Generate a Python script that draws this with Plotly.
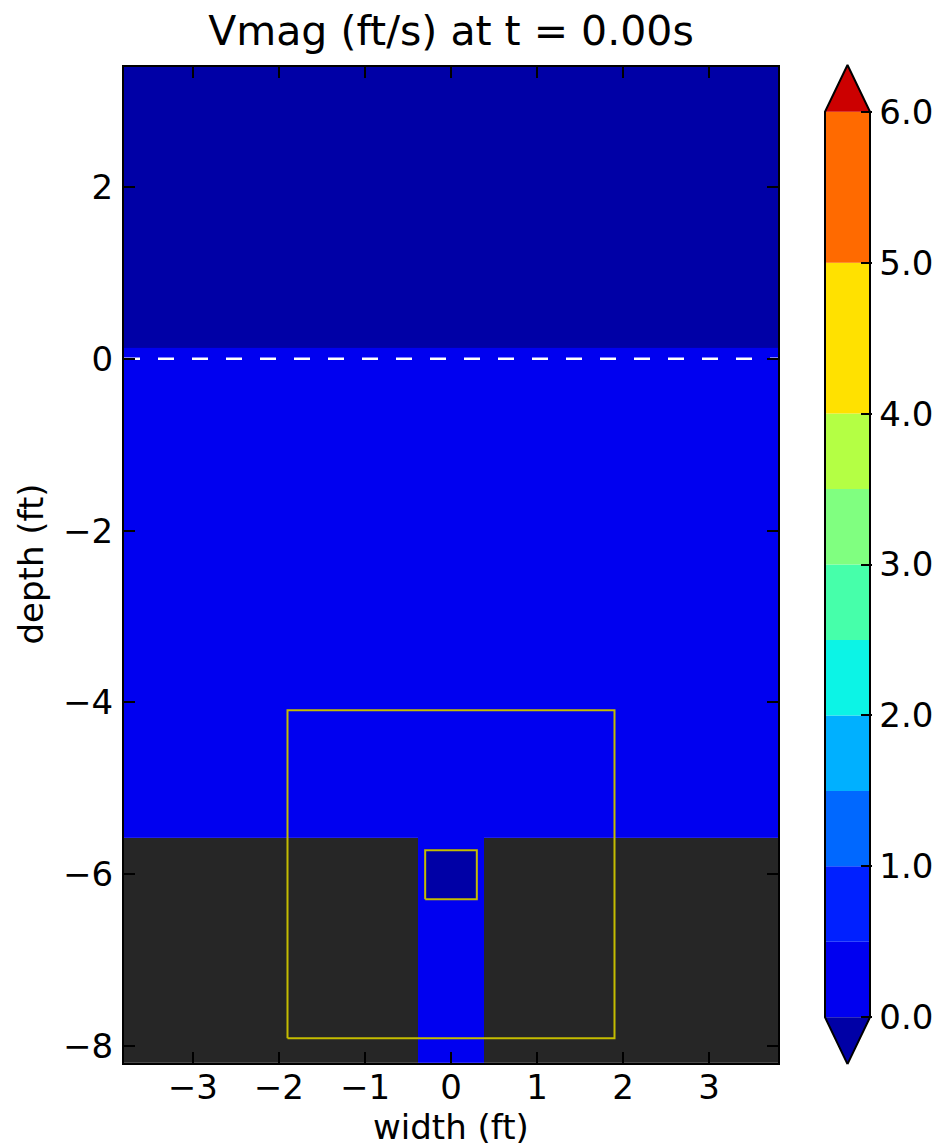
import plotly.graph_objects as go

# ---------------- data ----------------
title_text = "Vmag (ft/s) at t = 0.00s"
x_label = "width (ft)"
y_label = "depth (ft)"

# cell edges of the velocity-magnitude field (ft)
x_edges = [-3.8, -0.38, -0.3, 0.3, 0.38, 3.8]
y_edges = [-8.2, -6.3, -5.7, -5.58, 0.13, 3.4]
NaN = float("nan")
# Vmag rows, bottom to top (NaN = solid bed, -1 = below colour range)
row_bed_low = [NaN, 0.0, 0.0, 0.0, NaN]
row_bed_probe = [NaN, 0.0, -1.0, 0.0, NaN]
row_bed_top = [NaN, 0.0, 0.0, 0.0, NaN]
row_water = [0.0, 0.0, 0.0, 0.0, 0.0]
row_air = [-1.0, -1.0, -1.0, -1.0, -1.0]

# yellow outline boxes [x0, x1, y0, y1]
big_box = [-1.9, 1.9, -7.91, -4.09]
small_box = [-0.3, 0.3, -6.29, -5.72]
surface_level = 0.0

x_ticks = [-3, -2, -1, 0, 1, 2, 3]
y_ticks = [-8, -6, -4, -2, 0, 2]

# contour levels and colours
levels = [0, 0.5, 1, 1.5, 2, 2.5, 3, 3.5, 4, 5, 6]
band_colors = ["#0000f0", "#0020ff", "#0068ff", "#00b0ff", "#0cf4e6",
               "#46ffaa", "#80ff80", "#b4ff44", "#ffe100", "#ff6a00"]
under_color = "#0000a6"
over_color = "#cc0000"
cbar_ticks = [0, 1, 2, 3, 4, 5, 6]
cbar_ticktext = ["0.0", "1.0", "2.0", "3.0", "4.0", "5.0", "6.0"]
bed_color = "#262626"
box_color = "#c4bc00"

# ---------------- figure ----------------
W, H = 938, 1147
FONT = "DejaVu Sans"

def px_x(a, b):
    return [a / W, b / W]

def px_y(top, bottom):
    return [1 - bottom / H, 1 - top / H]

zmin, zmax = -1.0, 7.0
bounds = [zmin] + levels + [zmax]
cols = [under_color] + band_colors + [over_color]
colorscale = []
for i, c in enumerate(cols):
    lo = (bounds[i] - zmin) / (zmax - zmin)
    hi = (bounds[i + 1] - zmin) / (zmax - zmin)
    colorscale.append([lo, c])
    colorscale.append([hi, c])

z = [row_bed_low, row_bed_probe, row_bed_top, row_water, row_air]
bed_mask = [[1.0 if v != v else NaN for v in row] for row in z]

fig = go.Figure()
fig.add_trace(go.Heatmap(x=x_edges, y=y_edges, z=bed_mask,
                         colorscale=[[0, bed_color], [1, bed_color]], showscale=False,
                         hoverinfo="skip", xaxis="x", yaxis="y"))
fig.add_trace(go.Heatmap(x=x_edges, y=y_edges, z=z, zmin=zmin, zmax=zmax,
                         colorscale=colorscale, showscale=False,
                         hoverinfo="skip", xaxis="x", yaxis="y"))

fig.add_trace(go.Scatter(x=[x_edges[0], x_edges[-1]], y=[surface_level, surface_level],
                         mode="lines", line=dict(color="white", width=2.5, dash="16px,18px"),
                         showlegend=False, hoverinfo="skip"))

for bx in (big_box, small_box):
    x0, x1, y0, y1 = bx
    fig.add_trace(go.Scatter(x=[x0, x1, x1, x0, x0], y=[y0, y0, y1, y1, y0],
                             mode="lines", line=dict(color=box_color, width=2),
                             showlegend=False, hoverinfo="skip"))

# colourbar drawn on its own axes
ext = 0.31
lows = levels[:-1]
heights = [levels[i + 1] - levels[i] for i in range(len(levels) - 1)]
fig.add_trace(go.Bar(x=[0.5] * len(lows), y=heights, base=lows, width=1,
                     marker=dict(color=band_colors, line=dict(width=0)),
                     xaxis="x2", yaxis="y2", showlegend=False, hoverinfo="skip"))
fig.add_trace(go.Scatter(x=[0, 1, 0.5, 0], y=[levels[0], levels[0], levels[0] - ext, levels[0]],
                         fill="toself", fillcolor=under_color, mode="lines",
                         line=dict(width=0, color=under_color),
                         xaxis="x2", yaxis="y2", showlegend=False, hoverinfo="skip"))
fig.add_trace(go.Scatter(x=[0, 1, 0.5, 0], y=[levels[-1], levels[-1], levels[-1] + ext, levels[-1]],
                         fill="toself", fillcolor=over_color, mode="lines",
                         line=dict(width=0, color=over_color),
                         xaxis="x2", yaxis="y2", showlegend=False, hoverinfo="skip"))
fig.add_trace(go.Scatter(x=[0.5, 1, 1, 0.5, 0, 0, 0.5],
                         y=[levels[0] - ext, levels[0], levels[-1], levels[-1] + ext,
                            levels[-1], levels[0], levels[0] - ext],
                         mode="lines", line=dict(color="black", width=2),
                         xaxis="x2", yaxis="y2", showlegend=False, hoverinfo="skip"))

tickfont = dict(family=FONT, size=34, color="black")
fig.update_layout(
    width=W, height=H, autosize=False,
    margin=dict(l=0, r=0, t=0, b=0),
    paper_bgcolor="white", plot_bgcolor="white",
    font=dict(family=FONT, color="black"),
    showlegend=False, barmode="overlay",
    title=dict(text=title_text, x=451 / W, xanchor="center", xref="paper",
               y=1 - 31 / H, yanchor="middle", yref="paper",
               font=dict(family=FONT, size=41, color="black")),
    xaxis=dict(domain=px_x(124, 778), range=[-3.8, 3.8], tickvals=x_ticks,
               ticks="inside", ticklen=11, tickwidth=1.5, tickcolor="black",
               showline=True, linecolor="black", linewidth=2, mirror="ticks",
               showgrid=False, zeroline=False, tickfont=tickfont,
               ticklabelstandoff=-7, anchor="y"),
    yaxis=dict(domain=px_y(67, 1066), range=[-8.2, 3.4], tickvals=y_ticks,
               ticks="inside", ticklen=11, tickwidth=1.5, tickcolor="black",
               showline=True, linecolor="black", linewidth=2, mirror="ticks",
               showgrid=False, zeroline=False, tickfont=tickfont,
               ticklabelstandoff=2, anchor="x"),
    xaxis2=dict(domain=px_x(822.75, 872.25), range=[-0.05, 1.05], visible=False,
                anchor="y2", fixedrange=True),
    yaxis2=dict(domain=px_y(62.1, 1069.9), range=[-0.33, 6.33], anchor="x2",
                side="right", tickvals=cbar_ticks, ticktext=cbar_ticktext,
                ticks="inside", ticklen=11, tickwidth=1.5, tickcolor="black",
                showline=False, showgrid=False, zeroline=False,
                tickfont=tickfont, ticklabelstandoff=6),
    annotations=[
        dict(text=x_label, x=451 / W, y=1 - 1130 / H, xref="paper", yref="paper",
             xanchor="center", yanchor="middle", showarrow=False, font=tickfont),
        dict(text=y_label, x=31 / W, y=1 - 566 / H, xref="paper", yref="paper",
             xanchor="center", yanchor="middle", showarrow=False, textangle=-90,
             font=tickfont),
    ],
)

fig.write_html("out.html", config={"displayModeBar": False},
               post_script="document.body.style.margin='0';document.body.style.overflow='hidden';")
